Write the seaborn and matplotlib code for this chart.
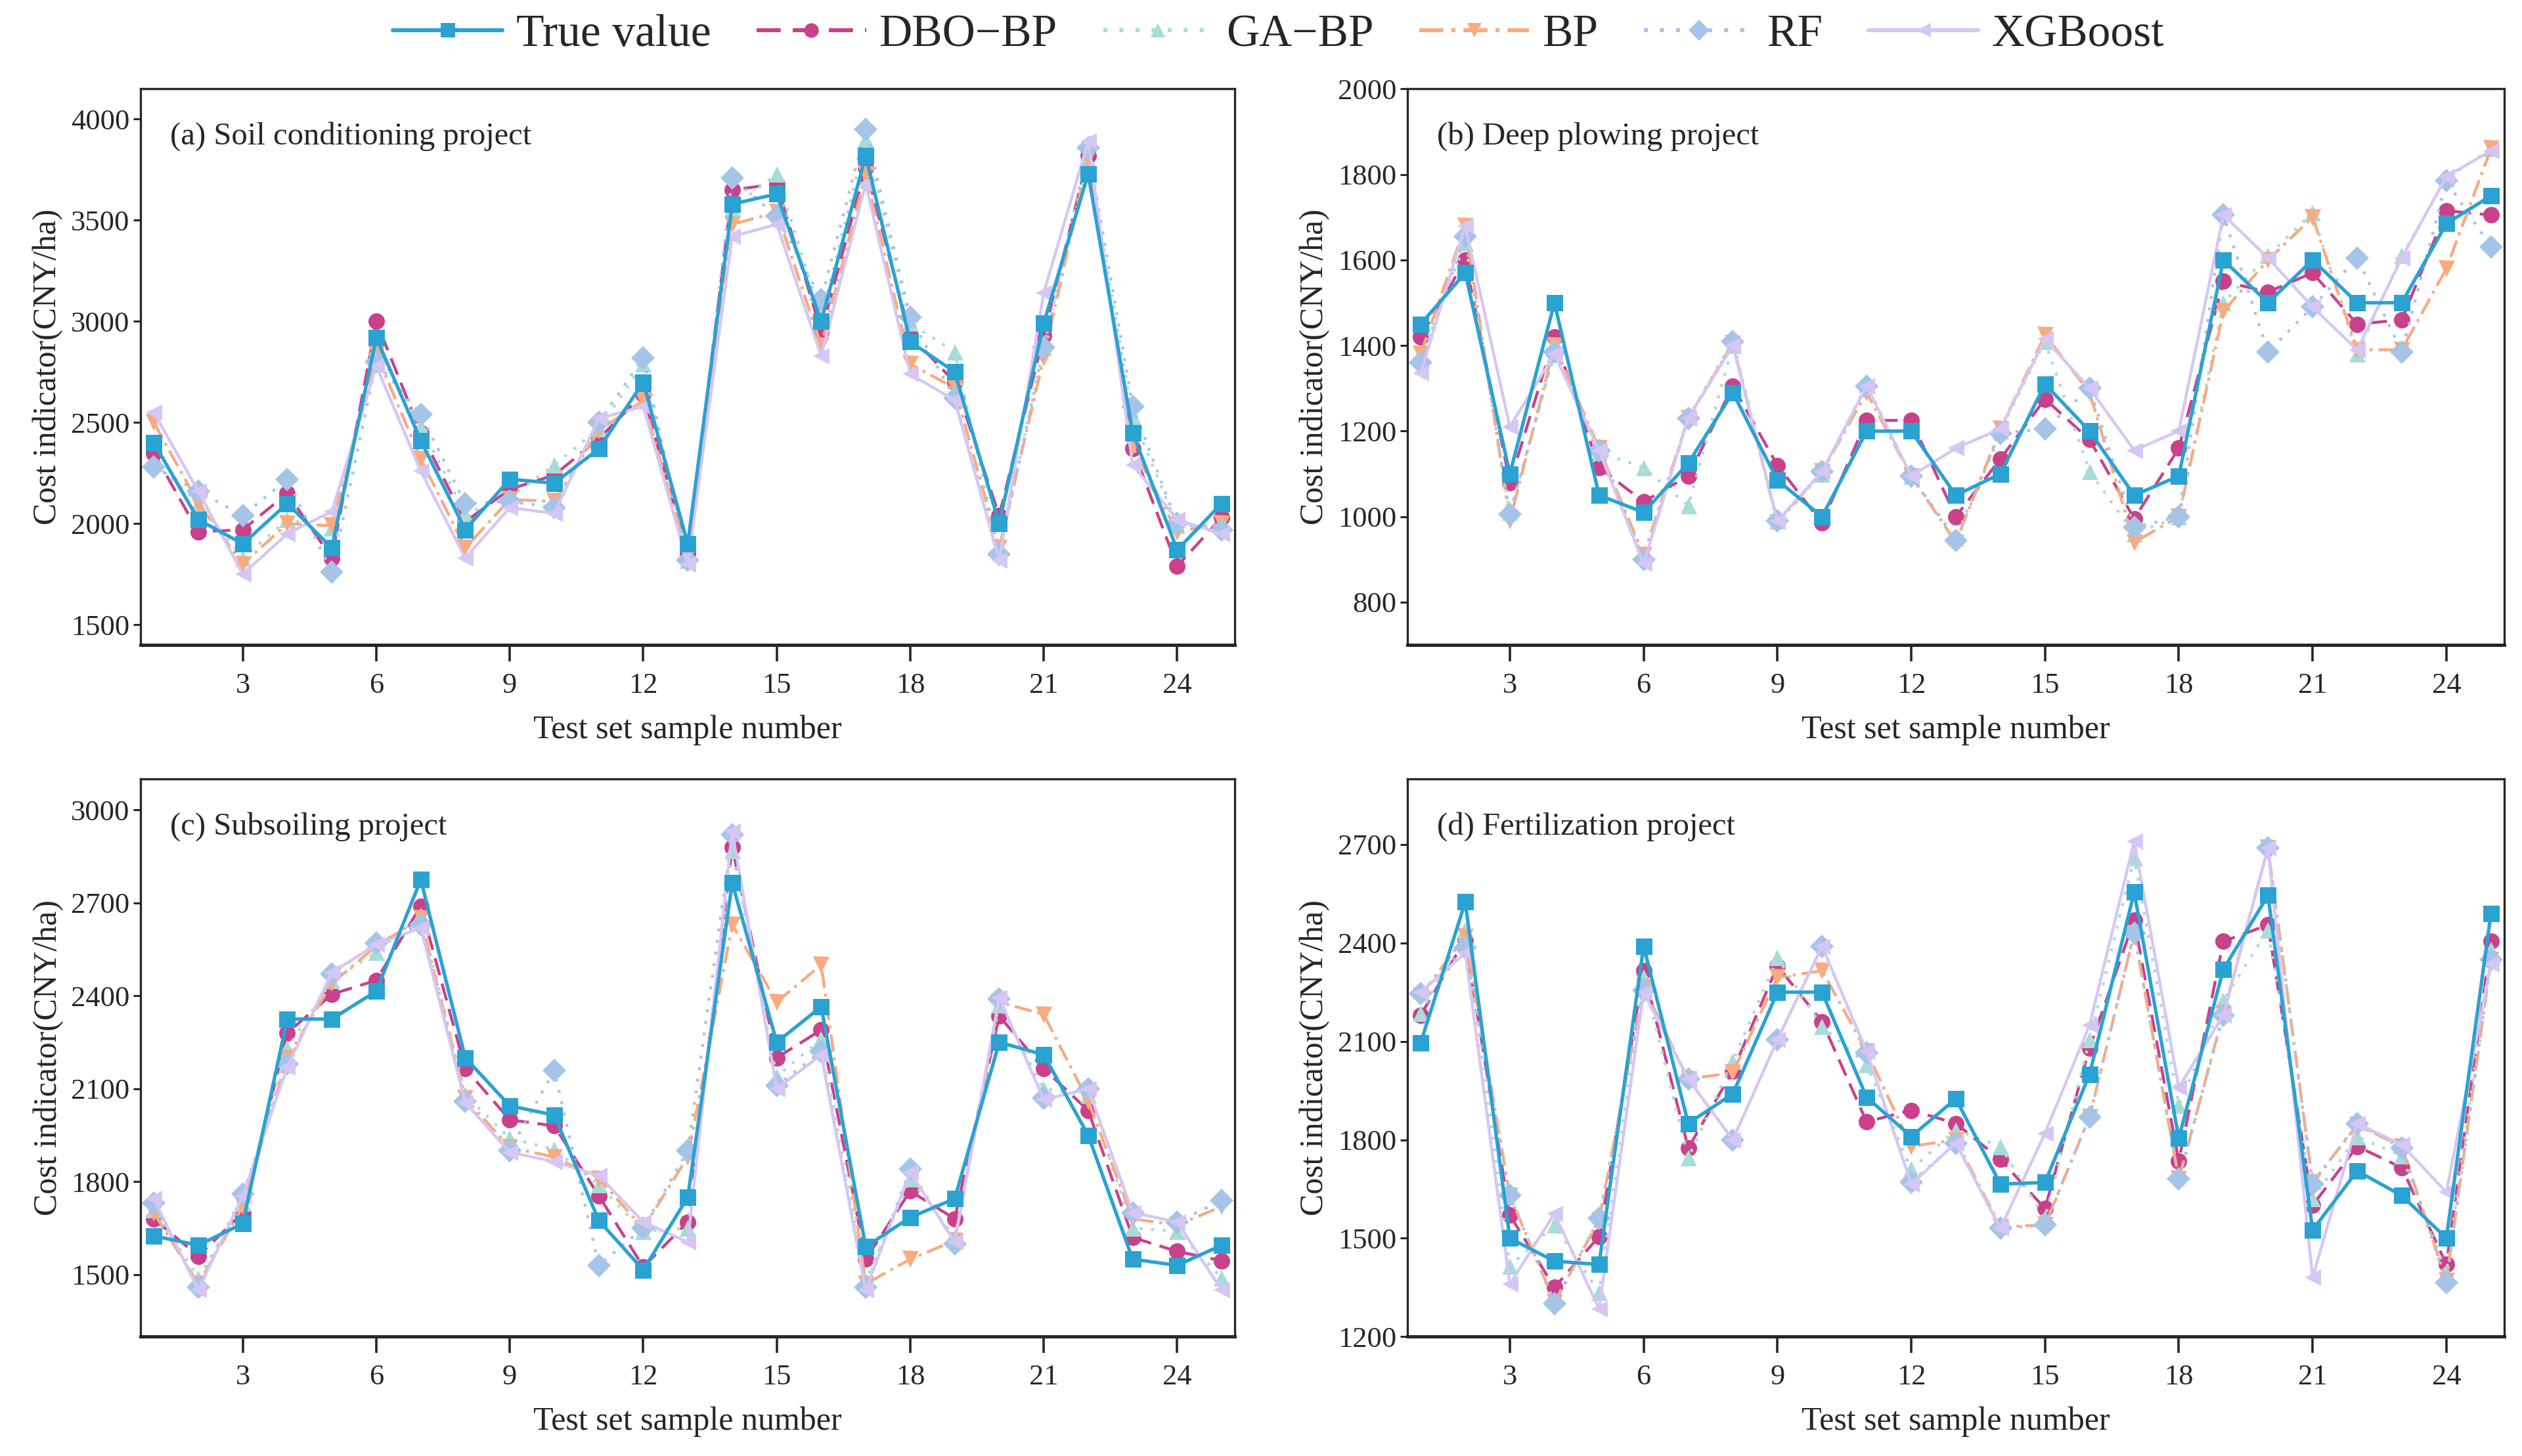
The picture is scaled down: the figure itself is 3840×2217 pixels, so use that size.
import matplotlib
matplotlib.use("Agg")
import matplotlib.pyplot as plt
import seaborn as sns
import pandas as pd

samples = list(range(1, 26))
models = ["True value", "DBO\u2212BP", "GA\u2212BP", "BP", "RF", "XGBoost"]

# (a) Soil conditioning project
soil_true = [2400, 2020, 1900, 2100, 1880, 2920, 2410, 1970, 2220, 2200, 2370, 2700, 1900,
             3580, 3630, 3000, 3820, 2900, 2750, 2000, 2990, 3730, 2450, 1870, 2100]
soil_dbo = [2350, 1960, 1970, 2150, 1830, 3000, 2450, 2010, 2170, 2240, 2420, 2640, 1850,
            3650, 3680, 2950, 3760, 2930, 2700, 2040, 2930, 3820, 2370, 1790, 2030]
soil_ga = [2300, 2100, 1830, 2020, 1980, 2870, 2480, 2050, 2130, 2290, 2470, 2790, 1820,
           3560, 3730, 3020, 3900, 2990, 2850, 1860, 2870, 3800, 2530, 1990, 1990]
soil_bp = [2500, 2100, 1800, 2000, 1990, 2840, 2320, 1880, 2120, 2110, 2460, 2610, 1840,
           3480, 3540, 2880, 3730, 2790, 2670, 1880, 2820, 3810, 2380, 1960, 2000]
soil_rf = [2280, 2160, 2040, 2220, 1760, 2800, 2540, 2100, 2110, 2080, 2500, 2820, 1820,
           3710, 3520, 3110, 3950, 3020, 2620, 1850, 2870, 3860, 2580, 2000, 1970]
soil_xgb = [2550, 2160, 1750, 1950, 2060, 2780, 2260, 1830, 2080, 2050, 2520, 2580, 1800,
            3420, 3480, 2830, 3680, 2740, 2610, 1820, 3140, 3890, 2290, 2020, 1950]

# (b) Deep plowing project
deep_true = [1450, 1570, 1100, 1500, 1050, 1010, 1125, 1290, 1085, 1000, 1200, 1200, 1050,
             1100, 1310, 1200, 1050, 1095, 1600, 1500, 1600, 1500, 1500, 1685, 1750]
deep_dbo = [1420, 1600, 1080, 1420, 1115, 1035, 1095, 1305, 1120, 985, 1225, 1225, 1000,
            1135, 1275, 1180, 995, 1160, 1550, 1525, 1570, 1450, 1460, 1715, 1705]
deep_ga = [1370, 1640, 1010, 1380, 1150, 1115, 1025, 1400, 990, 1100, 1310, 1095, 950,
           1200, 1410, 1105, 960, 1000, 1500, 1610, 1710, 1380, 1610, 1790, 1860]
deep_bp = [1380, 1680, 990, 1400, 1160, 910, 1230, 1405, 985, 1105, 1290, 1095, 940,
           1205, 1425, 1290, 940, 1000, 1480, 1600, 1700, 1390, 1390, 1580, 1860]
deep_rf = [1360, 1655, 1005, 1385, 1155, 900, 1230, 1410, 990, 1105, 1305, 1095, 945,
           1195, 1205, 1300, 975, 1000, 1705, 1385, 1490, 1605, 1385, 1785, 1630]
deep_xgb = [1335, 1680, 1210, 1380, 1155, 890, 1230, 1400, 990, 1105, 1305, 1095, 1160,
            1205, 1415, 1300, 1155, 1200, 1705, 1605, 1490, 1390, 1605, 1795, 1855]

# (c) Subsoiling project
sub_true = [1625, 1595, 1665, 2325, 2325, 2415, 2775, 2200, 2045, 2015, 1675, 1515, 1750,
            2765, 2250, 2365, 1590, 1685, 1745, 2250, 2210, 1950, 1550, 1530, 1595]
sub_dbo = [1680, 1560, 1700, 2280, 2405, 2450, 2690, 2165, 2000, 1980, 1755, 1525, 1670,
           2880, 2200, 2290, 1550, 1770, 1680, 2335, 2165, 2030, 1620, 1575, 1545]
sub_ga = [1710, 1490, 1730, 2230, 2450, 2540, 2660, 2080, 1940, 1905, 1790, 1640, 1650,
          2870, 2140, 2260, 1480, 1810, 1620, 2370, 2100, 2080, 1650, 1640, 1490]
sub_bp = [1700, 1470, 1720, 2200, 2440, 2560, 2650, 2070, 1910, 1880, 1810, 1650, 1880,
          2630, 2380, 2500, 1470, 1550, 1610, 2380, 2340, 2060, 1680, 1660, 1720]
sub_rf = [1730, 1460, 1760, 2180, 2470, 2570, 2630, 2060, 1900, 2160, 1530, 1650, 1900,
          2920, 2110, 2220, 1460, 1840, 1600, 2390, 2070, 2100, 1700, 1670, 1740]
sub_xgb = [1745, 1450, 1755, 2170, 2475, 2565, 2620, 2055, 1895, 1865, 1820, 1670, 1605,
           2930, 2100, 2210, 1450, 1830, 1605, 2395, 2065, 2100, 1700, 1670, 1450]

# (d) Fertilization project
fert_true = [2095, 2525, 1500, 1430, 1420, 2390, 1850, 1940, 2250, 2250, 1930, 1810, 1925,
             1665, 1670, 2000, 2555, 1805, 2320, 2545, 1525, 1705, 1630, 1500, 2490]
fert_dbo = [2180, 2410, 1570, 1350, 1505, 2315, 1775, 2010, 2330, 2160, 1855, 1890, 1850,
            1740, 1590, 2080, 2470, 1735, 2405, 2455, 1600, 1780, 1715, 1420, 2405]
fert_ga = [2185, 2440, 1415, 1540, 1335, 2295, 1745, 2040, 2355, 2145, 2030, 1710, 1830,
           1780, 1560, 2105, 2660, 1905, 2225, 2440, 1620, 1810, 1750, 1395, 2380]
fert_bp = [2240, 2420, 1630, 1305, 1555, 2265, 1985, 2005, 2295, 2315, 2070, 1780, 1800,
           1535, 1540, 1870, 2430, 1680, 2185, 2690, 1670, 1845, 1780, 1370, 2350]
fert_rf = [2245, 2385, 1630, 1300, 1560, 2255, 1985, 1800, 2105, 2390, 2065, 1670, 1790,
           1530, 1540, 1870, 2430, 1680, 2180, 2690, 1665, 1850, 1775, 1365, 2350]
fert_xgb = [2250, 2370, 1360, 1575, 1285, 2250, 1985, 1800, 2105, 2390, 2070, 1665, 1790,
            1530, 1820, 2150, 2710, 1960, 2180, 2690, 1380, 1850, 1785, 1640, 2335]

panels = [
    ("(a) Soil conditioning project", [soil_true, soil_dbo, soil_ga, soil_bp, soil_rf, soil_xgb],
     (1400, 4150), [1500, 2000, 2500, 3000, 3500, 4000]),
    ("(b) Deep plowing project", [deep_true, deep_dbo, deep_ga, deep_bp, deep_rf, deep_xgb],
     (700, 2000), [800, 1000, 1200, 1400, 1600, 1800, 2000]),
    ("(c) Subsoiling project", [sub_true, sub_dbo, sub_ga, sub_bp, sub_rf, sub_xgb],
     (1300, 3100), [1500, 1800, 2100, 2400, 2700, 3000]),
    ("(d) Fertilization project", [fert_true, fert_dbo, fert_ga, fert_bp, fert_rf, fert_xgb],
     (1200, 2900), [1200, 1500, 1800, 2100, 2400, 2700]),
]

palette = dict(zip(models, ["#2aa2d2", "#c8418a", "#a8dcd8", "#f9aa80", "#a5c4e8", "#d6c6f4"]))
markers = dict(zip(models, ["s", "o", "^", "v", "D", "<"]))
dashes = dict(zip(models, ["", (6, 3), (1, 3), (6, 2, 1, 2), (1, 3), ""]))

sns.set_theme(style="ticks")
plt.rcParams["font.family"] = ["Liberation Serif", "DejaVu Serif"]

fig = plt.figure(figsize=(19.2, 11.085), dpi=200)
boxes = [(0.0557, 0.557, 0.434, 0.382), (0.558, 0.557, 0.435, 0.382),
         (0.0557, 0.082, 0.434, 0.383), (0.558, 0.082, 0.435, 0.383)]

for (title, series, ylim, yticks), box in zip(panels, boxes):
    ax = fig.add_axes(box)
    df = pd.DataFrame({
        "sample": samples * len(models),
        "value": [v for s in series for v in s],
        "model": [m for m in models for _ in samples],
    })
    sns.lineplot(data=df, x="sample", y="value", hue="model", style="model",
                 palette=palette, markers=markers, dashes=dashes, hue_order=models,
                 style_order=models, linewidth=1.6, markersize=9, markeredgewidth=0,
                 legend=False, ax=ax)
    # true value drawn a bit heavier and on top
    ax.lines[0].set_linewidth(1.9)
    ax.lines[0].set_zorder(5)
    ax.set_xlim(0.7, 25.3)
    ax.set_ylim(*ylim)
    ax.set_xticks(range(3, 25, 3))
    ax.set_yticks(yticks)
    ax.tick_params(axis="x", direction="out", length=9, width=1.3, labelsize=16, pad=6)
    ax.tick_params(axis="y", direction="out", length=4, width=1.1, labelsize=16, pad=2)
    for sp in ax.spines.values():
        sp.set_linewidth(1.2)
        sp.set_visible(True)
    ax.spines["bottom"].set_linewidth(1.8)
    ax.set_xlabel("Test set sample number", fontsize=18, labelpad=9)
    ax.set_ylabel("Cost indicator(CNY/ha)", fontsize=18, labelpad=4)
    ax.text(0.027, 0.915, title, transform=ax.transAxes, fontsize=17.5, va="center", ha="left")

handles = []
for m in models:
    ls = "-" if dashes[m] == "" else (0, dashes[m])
    h, = plt.plot([], [], color=palette[m], marker=markers[m], linestyle=ls,
                  linewidth=2.2, markersize=8, markeredgewidth=0)
    handles.append(h)
fig.legend(handles, models, loc="center", bbox_to_anchor=(0.507, 0.976), ncol=6,
           frameon=False, fontsize=25, handlelength=2.4, columnspacing=1.0,
           handletextpad=0.3)

fig.savefig("out.png", dpi=200)
